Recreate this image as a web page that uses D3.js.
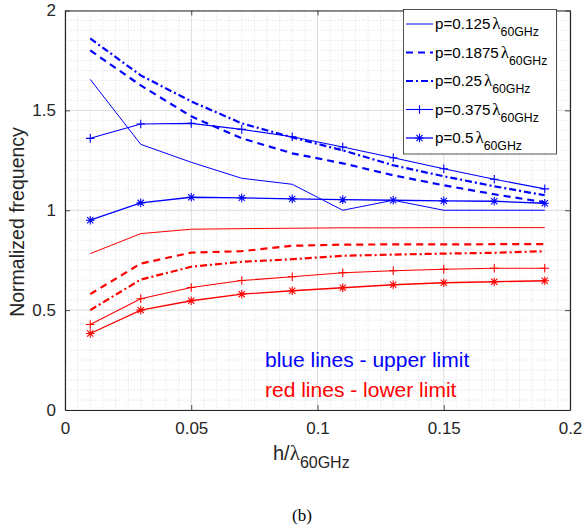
<!DOCTYPE html>
<html><head><meta charset="utf-8">
<script src="https://cdn.jsdelivr.net/npm/d3@7"></script>
<style>body{margin:0;background:#fff}</style>
</head><body><svg id="c" width="584" height="529"></svg>
<script>
// ---- data ----
const hValues = [0.01,0.03,0.05,0.07,0.09,0.11,0.13,0.15,0.17,0.19];
const pLabels = ["0.125","0.1875","0.25","0.375","0.5"];
const upper0125  = [1.655,1.33,1.24,1.16,1.13,1.00,1.05,1.00,1.00,1.00];
const upper01875 = [1.80,1.625,1.47,1.36,1.285,1.235,1.175,1.125,1.08,1.04];
const upper025   = [1.86,1.675,1.545,1.435,1.365,1.30,1.225,1.17,1.12,1.075];
const upper0375  = [1.36,1.432,1.435,1.405,1.368,1.317,1.263,1.208,1.155,1.107];
const upper05    = [0.95,1.037,1.065,1.062,1.057,1.053,1.05,1.047,1.045,1.035];
const lower0125  = [0.783,0.883,0.905,0.908,0.91,0.912,0.912,0.913,0.913,0.913];
const lower01875 = [0.58,0.733,0.788,0.795,0.822,0.828,0.829,0.829,0.83,0.83];
const lower025   = [0.50,0.653,0.717,0.742,0.755,0.772,0.778,0.783,0.787,0.795];
const lower0375  = [0.428,0.557,0.613,0.648,0.667,0.687,0.697,0.705,0.71,0.71];
const lower05    = [0.383,0.50,0.547,0.58,0.597,0.612,0.627,0.637,0.642,0.647];
const xTicks = [0,0.05,0.1,0.15,0.2];
const yTicks = [0,0.5,1,1.5,2];

// styles per p value
const styles = [
  {w:1,   dash:null,        marker:null},
  {w:2.2, dash:"7,5",       marker:null},
  {w:2.2, dash:"7,3,2,3",   marker:null},
  {w:1.1, dash:null,        marker:"plus"},
  {w:1.3, dash:null,        marker:"star"}
];
const upperSets = [upper0125,upper01875,upper025,upper0375,upper05];
const lowerSets = [lower0125,lower01875,lower025,lower0375,lower05];
const BLUE="#0000ff", RED="#ff0000", AX="#262626";

const svg = d3.select("#c");
const L=65, R=570, T=10.5, B=410;
const x = d3.scaleLinear().domain([0,0.2]).range([L,R]);
const y = d3.scaleLinear().domain([0,2]).range([B,T]);

// grid
const g = svg.append("g");
const minorX = d3.range(0,0.2001,0.005).filter(v=>Math.abs(v/0.05-Math.round(v/0.05))>1e-6);
const minorY = d3.range(0,2.001,0.05).filter(v=>Math.abs(v/0.5-Math.round(v/0.5))>1e-6);
g.selectAll(".mx").data(minorX).enter().append("line")
  .attr("x1",d=>x(d)).attr("x2",d=>x(d)).attr("y1",T).attr("y2",B)
  .attr("stroke","#c8c8c8").attr("stroke-width",0.6).attr("stroke-dasharray","1,2");
g.selectAll(".my").data(minorY).enter().append("line")
  .attr("y1",d=>y(d)).attr("y2",d=>y(d)).attr("x1",L).attr("x2",R)
  .attr("stroke","#c8c8c8").attr("stroke-width",0.6).attr("stroke-dasharray","1,2");
g.selectAll(".Mx").data(xTicks).enter().append("line")
  .attr("x1",d=>x(d)).attr("x2",d=>x(d)).attr("y1",T).attr("y2",B)
  .attr("stroke","#dcdcdc").attr("stroke-width",1);
g.selectAll(".My").data(yTicks).enter().append("line")
  .attr("y1",d=>y(d)).attr("y2",d=>y(d)).attr("x1",L).attr("x2",R)
  .attr("stroke","#dcdcdc").attr("stroke-width",1);

// axes
const font = "'Liberation Sans', Arial, sans-serif";
function styleAxis(sel){
  sel.select(".domain").attr("stroke",AX).attr("stroke-width",1.2);
  sel.selectAll(".tick line").attr("stroke",AX).attr("stroke-width",0.8);
  sel.selectAll("text").attr("fill",AX).attr("font-family",font).attr("font-size",17);
}
svg.append("g").attr("transform",`translate(0,${B})`)
  .call(d3.axisBottom(x).tickValues(xTicks).tickFormat(d3.format("~g")).tickSizeInner(-5).tickSizeOuter(0).tickPadding(12))
  .call(styleAxis);
svg.append("g").attr("transform",`translate(${L},0)`)
  .call(d3.axisLeft(y).tickValues(yTicks).tickFormat(d3.format("~g")).tickSizeInner(-5).tickSizeOuter(0).tickPadding(9))
  .call(styleAxis);
svg.append("g").attr("transform",`translate(0,${T})`)
  .call(d3.axisTop(x).tickValues(xTicks).tickFormat("").tickSizeInner(-5).tickSizeOuter(0))
  .call(styleAxis);
svg.append("g").attr("transform",`translate(${R},0)`)
  .call(d3.axisRight(y).tickValues(yTicks).tickFormat("").tickSizeInner(-5).tickSizeOuter(0))
  .call(styleAxis);

// markers
function markerPath(type, s){
  if(type==="plus") return `M${-s},0H${s}M0,${-s}V${s}`;
  const d=s*0.72;
  return `M${-s},0H${s}M0,${-s}V${s}M${-d},${-d}L${d},${d}M${-d},${d}L${d},${-d}`;
}
const line = d3.line().x((d,i)=>x(hValues[i])).y(d=>y(d));
function drawSeries(vals, st, color){
  const p = svg.append("path").datum(vals).attr("d",line)
    .attr("fill","none").attr("stroke",color).attr("stroke-width",st.w);
  if(st.dash) p.attr("stroke-dasharray",st.dash);
  if(st.marker){
    svg.append("g").selectAll("path").data(vals).enter().append("path")
      .attr("transform",(d,i)=>`translate(${x(hValues[i])},${y(d)})`)
      .attr("d",markerPath(st.marker,4.3)).attr("stroke",color).attr("stroke-width",1.1).attr("fill","none");
  }
}
lowerSets.forEach((v,i)=>drawSeries(v,styles[i],RED));
upperSets.forEach((v,i)=>drawSeries(v,styles[i],BLUE));

// annotations
svg.append("text").attr("x",265).attr("y",367).attr("fill",BLUE)
  .attr("font-family",font).attr("font-size",21).text("blue lines - upper limit");
svg.append("text").attr("x",265).attr("y",397).attr("fill",RED)
  .attr("font-family",font).attr("font-size",21).text("red lines - lower limit");

// legend
const lg = svg.append("g");
lg.append("rect").attr("x",403.5).attr("y",9.5).attr("width",153).attr("height",144.5)
  .attr("fill","#fff").attr("stroke",AX).attr("stroke-width",0.8);
pLabels.forEach((lab,i)=>{
  const yy = 24 + i*28.5;
  const st = styles[i];
  const ln = lg.append("line").attr("x1",406).attr("x2",433).attr("y1",yy).attr("y2",yy)
    .attr("stroke",BLUE).attr("stroke-width",st.w);
  if(st.dash) ln.attr("stroke-dasharray",st.dash);
  if(st.marker) lg.append("path").attr("transform",`translate(419.5,${yy})`)
    .attr("d",markerPath(st.marker,4.3)).attr("stroke",BLUE).attr("stroke-width",1.1).attr("fill","none");
  const t = lg.append("text").attr("x",435).attr("y",yy+5).attr("fill","#000")
    .attr("font-family",font).attr("font-size",15.2);
  t.append("tspan").text("p="+lab);
  t.append("tspan").attr("font-family","'Liberation Serif', serif").attr("font-size",17).attr("dx",2).text("λ");
  t.append("tspan").attr("font-size",12.3).attr("dy",7).text("60GHz");
});

// axis labels
svg.append("text").attr("transform","translate(24,222) rotate(-90)").attr("text-anchor","middle")
  .attr("fill",AX).attr("font-family",font).attr("font-size",19.5).text("Normalized frequency");
const xl = svg.append("text").attr("x",273).attr("y",460).attr("fill",AX)
  .attr("font-family",font).attr("font-size",20);
xl.append("tspan").text("h/");
xl.append("tspan").attr("font-family","'Liberation Serif', serif").attr("font-size",21).text("λ");
xl.append("tspan").attr("font-size",16).attr("dy",8).text("60GHz");

svg.append("text").attr("x",302).attr("y",521).attr("text-anchor","middle").attr("fill","#000")
  .attr("font-family","'Liberation Serif', 'Times New Roman', serif").attr("font-size",17).text("(b)");
</script></body></html>
